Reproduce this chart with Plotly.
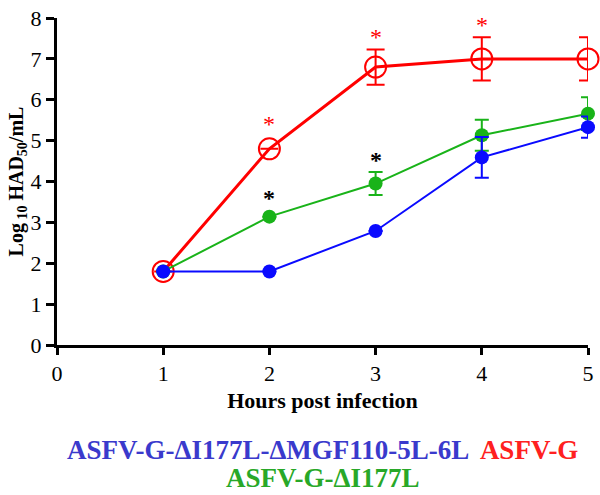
import plotly.graph_objects as go

hours = [1, 2, 3, 4, 5]

red_vals = [1.8, 4.8, 6.8, 7.0, 7.0]
red_err = [0, 0, 0.43, 0.53, 0.53]

green_vals = [1.8, 3.14, 3.95, 5.13, 5.66]
green_err = [0, 0, 0.28, 0.38, 0.4]

blue_vals = [1.8, 1.8, 2.79, 4.59, 5.33]
blue_err = [0, 0, 0, 0.5, 0.26]

red_star_x = [2, 3, 4]
black_star_x = [2, 3]

x_ticks = [0, 1, 2, 3, 4, 5]
y_ticks = [0, 1, 2, 3, 4, 5, 6, 7, 8]

RED = "#ff0000"
GREEN = "#19b319"
BLUE = "#0a0aff"
FONT = "Liberation Serif"

fig = go.Figure()

fig.add_trace(go.Scatter(
    x=hours, y=red_vals, mode="lines+markers",
    line=dict(color=RED, width=3),
    marker=dict(symbol="circle-open", size=21, color=RED, line=dict(width=2, color=RED)),
    error_y=dict(type="data", array=red_err, visible=True, color=RED, thickness=2, width=9),
    cliponaxis=False, showlegend=False))

fig.add_trace(go.Scatter(
    x=hours, y=green_vals, mode="lines+markers",
    line=dict(color=GREEN, width=2),
    marker=dict(symbol="circle", size=14, color=GREEN),
    error_y=dict(type="data", array=green_err, visible=True, color=GREEN, thickness=2, width=7),
    cliponaxis=False, showlegend=False))

fig.add_trace(go.Scatter(
    x=hours, y=blue_vals, mode="lines+markers",
    line=dict(color=BLUE, width=2),
    marker=dict(symbol="circle", size=14, color=BLUE),
    error_y=dict(type="data", array=blue_err, visible=True, color=BLUE, thickness=2, width=7),
    cliponaxis=False, showlegend=False))

annotations = []
for hx in red_star_x:
    i = hours.index(hx)
    annotations.append(dict(x=hx, y=red_vals[i] + red_err[i] + (0.6 if red_err[i] == 0 else 0.3),
                            text="*", showarrow=False, xref="x", yref="y",
                            font=dict(family=FONT, size=24, color=RED)))
for hx in black_star_x:
    i = hours.index(hx)
    annotations.append(dict(x=hx, y=green_vals[i] + green_err[i] + (0.45 if green_err[i] == 0 else 0.3),
                            text="<b>*</b>", showarrow=False, xref="x", yref="y",
                            font=dict(family=FONT, size=24, color="black")))

annotations.append(dict(
    x=0.5, y=-0.322, xref="paper", yref="paper", showarrow=False, xanchor="center", yanchor="middle",
    text="<b><span style='color:#3a3acc'>ASFV-G-ΔI177L-ΔMGF110-5L-6L</span>  "
         "<span style='color:#ff2020'>ASFV-G</span></b>",
    font=dict(family=FONT, size=27)))
annotations.append(dict(
    x=0.5, y=-0.408, xref="paper", yref="paper", showarrow=False, xanchor="center", yanchor="middle",
    text="<b>ASFV-G-ΔI177L</b>",
    font=dict(family=FONT, size=27, color="#28a828")))

fig.update_layout(
    width=600, height=495,
    margin=dict(l=57, r=12, t=6, b=150),
    plot_bgcolor="white", paper_bgcolor="white",
    font=dict(family=FONT, color="black"),
    annotations=annotations,
    xaxis=dict(range=[0, 5], tickvals=x_ticks, showgrid=False, zeroline=False,
               showline=True, linecolor="black", linewidth=3,
               ticks="outside", ticklen=7, tickwidth=2.5, tickcolor="black",
               tickfont=dict(family=FONT, size=22, color="black"),
               tickprefix="<b>", ticksuffix="</b>",
               title=dict(text="<b>Hours post infection</b>", font=dict(family=FONT, size=22), standoff=8)),
    yaxis=dict(range=[0, 8], tickvals=y_ticks, showgrid=False, zeroline=False,
               showline=True, linecolor="black", linewidth=3,
               ticks="outside", ticklen=8, tickwidth=2.5, tickcolor="black",
               tickfont=dict(family=FONT, size=22, color="black"),
               ticklabeloverflow="allow",
               tickprefix="<b>", ticksuffix="</b>",
               title=dict(text="<b>Log<sub> 10</sub> HAD<sub>50</sub>/mL</b>", font=dict(family=FONT, size=20), standoff=2)),
)

fig.write_html("out.html", config={"displayModeBar": False},
               post_script="document.body.style.margin='0';document.body.style.padding='0';")
